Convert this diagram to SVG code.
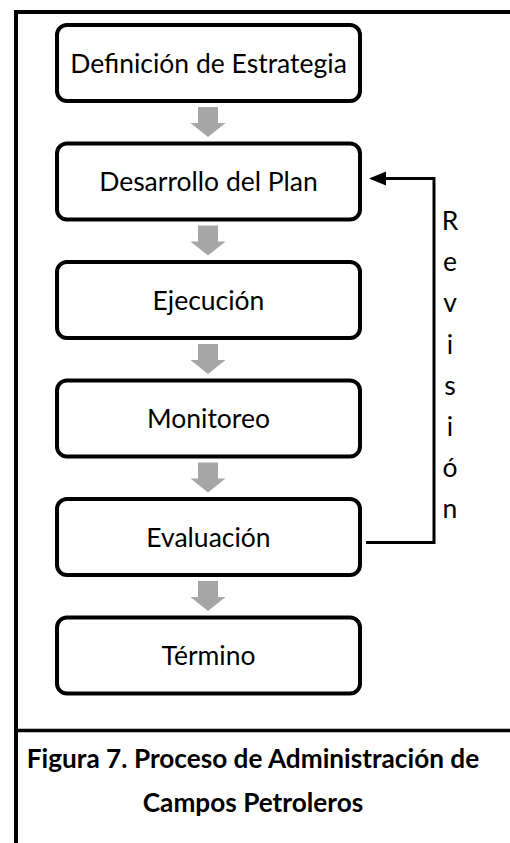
<svg xmlns="http://www.w3.org/2000/svg" width="510" height="843" viewBox="0 0 510 843">
<style>
.box{fill:#fff;stroke:#000;stroke-width:4}
.lbl{font-family:Lato,"Open Sans",sans-serif;font-size:26.5px;fill:#000;text-anchor:middle}
.ga{fill:#a6a6a6}
.frame{stroke:#000;stroke-width:4;fill:none}
.cap{font-family:Lato,"Open Sans",sans-serif;font-size:26.2px;font-weight:bold;fill:#000;text-anchor:middle}
.rev{font-family:Lato,"Open Sans",sans-serif;font-size:26.5px;fill:#000;text-anchor:middle}
</style>
<defs>
<path id="garrow" d="M-10,0 H10 V16 H17.5 L0,30 L-17.5,16 H-10 Z"/>
</defs>
<g id="frame">
<path class="frame" d="M16,843 V12 H510"/>
<path class="frame" d="M16,730.5 H510" style="stroke-width:3.5"/>
</g>
<g id="n1"><rect class="box" x="57" y="25" width="303" height="76" rx="10"/><text class="lbl" x="208.5" y="72.5">Definición de Estrategia</text></g>
<g id="n2"><rect class="box" x="57" y="143.5" width="303" height="76" rx="10"/><text class="lbl" x="208.5" y="191">Desarrollo del Plan</text></g>
<g id="n3"><rect class="box" x="57" y="262" width="303" height="76" rx="10"/><text class="lbl" x="208.5" y="309.5">Ejecución</text></g>
<g id="n4"><rect class="box" x="57" y="380.5" width="303" height="76" rx="10"/><text class="lbl" x="208.5" y="428">Monitoreo</text></g>
<g id="n5"><rect class="box" x="57" y="499" width="303" height="76" rx="10"/><text class="lbl" x="208.5" y="546.5">Evaluación</text></g>
<g id="n6"><rect class="box" x="57" y="617.5" width="303" height="76" rx="10"/><text class="lbl" x="208.5" y="665">Término</text></g>
<g id="connectors">
<use href="#garrow" class="ga" x="208" y="107"/>
<use href="#garrow" class="ga" x="208" y="225.5"/>
<use href="#garrow" class="ga" x="208" y="344"/>
<use href="#garrow" class="ga" x="208" y="462.5"/>
<use href="#garrow" class="ga" x="208" y="581"/>
<path d="M366,542.5 H434 V178.5 H384" fill="none" stroke="#000" stroke-width="3"/>
<path d="M369,178.5 L386,171.5 V185.5 Z" fill="#000"/>
</g>
<g id="revision-label">
<text class="rev" x="450" y="230">R</text>
<text class="rev" x="450" y="271">e</text>
<text class="rev" x="450" y="312">v</text>
<text class="rev" x="450" y="353.5">i</text>
<text class="rev" x="450" y="394.5">s</text>
<text class="rev" x="450" y="435.5">i</text>
<text class="rev" x="450" y="476.5">ó</text>
<text class="rev" x="450" y="517.5">n</text>
</g>
<g id="caption">
<text class="cap" x="253" y="768">Figura 7. Proceso de Administración de</text>
<text class="cap" x="253" y="812">Campos Petroleros</text>
</g>
</svg>
